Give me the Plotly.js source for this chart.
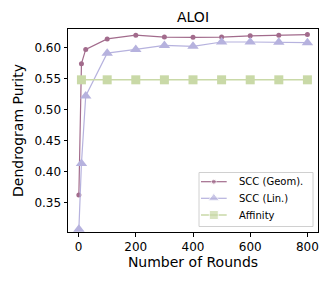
<!DOCTYPE html>
<html><head><meta charset="utf-8">
<script src="https://cdn.plot.ly/plotly-3.0.1.min.js"></script>
<style>body{margin:0;padding:0;background:#fff}#chart{width:332px;height:282px}</style>
</head><body><div id="chart"></div>
<script>
var roundsScc = [1, 10, 25, 100, 200, 300, 400, 500, 600, 700, 800];
var sccGeom = [0.362, 0.574, 0.597, 0.614, 0.620, 0.617, 0.6165, 0.617, 0.619, 0.620, 0.621];
var sccLin = [0.307, 0.413, 0.522, 0.591, 0.597, 0.6035, 0.602, 0.609, 0.609, 0.6085, 0.608];
var roundsAff = [10, 100, 200, 300, 400, 500, 600, 700, 800];
var affinity = [0.548, 0.548, 0.548, 0.548, 0.548, 0.548, 0.548, 0.548, 0.548];
var seriesNames = ["SCC (Geom).", "SCC (Lin.)", "Affinity"];
var xTicks = [0, 200, 400, 600, 800];
var yTicks = [0.35, 0.40, 0.45, 0.50, 0.55, 0.60];

var font = "DejaVu Sans, sans-serif";
var colors = ["#a26b8c", "#b6b2de", "#c9d9a7"];
var symbols = ["circle", "triangle-up", "square"];
var msizes = [5, 10, 9];
var lwidths = [1.2, 1.2, 1.5];
var xs = [roundsScc, roundsScc, roundsAff];
var ys = [sccGeom, sccLin, affinity];

var traces = [];
for (var i = 0; i < 3; i++) {
  traces.push({x: xs[i], y: ys[i], name: seriesNames[i], mode: "lines+markers", showlegend: false,
    line: {color: colors[i], width: lwidths[i]}, marker: {symbol: symbols[i], size: msizes[i], color: colors[i]}});
}

// manual legend (plot-pixel overlay axes)
var legX0 = 131, legX1 = 245, legY0 = 143.5, legY1 = 197.5;
var rowY = [152.7, 169.3, 186];
var shapes = [{type: "rect", xref: "x2", yref: "y2", x0: legX0, x1: legX1, y0: legY0, y1: legY1,
  line: {color: "#d0d0d0", width: 1}, fillcolor: "rgba(255,255,255,0.8)", layer: "below"}];
var annotations = [];
for (var j = 0; j < 3; j++) {
  traces.push({x: [133, 145.8, 158.7], y: [rowY[j], rowY[j], rowY[j]], xaxis: "x2", yaxis: "y2",
    mode: "lines+markers", showlegend: false, cliponaxis: false, hoverinfo: "skip",
    line: {color: colors[j], width: lwidths[j]},
    marker: {symbol: symbols[j], size: [0, msizes[j], 0], color: colors[j]}});
  annotations.push({xref: "x2", yref: "y2", x: 168.5, y: rowY[j], xanchor: "left", yanchor: "middle",
    text: seriesNames[j], showarrow: false, font: {size: 10, family: font, color: "#000"}});
}

var layout = {
  width: 332, height: 282,
  margin: {l: 68, r: 14, t: 29, b: 50},
  paper_bgcolor: "#fff", plot_bgcolor: "#fff",
  font: {family: font, color: "#000", size: 12},
  title: {text: "ALOI", font: {size: 14, family: font}, x: 0.5, xref: "paper", xanchor: "center", y: 0.94, yanchor: "middle"},
  xaxis: {range: [-37, 837], tickvals: xTicks, ticktext: xTicks.map(String),
    showgrid: false, zeroline: false, showline: true, mirror: true, linecolor: "#000", linewidth: 1,
    ticks: "outside", ticklen: 3.5, tickcolor: "#000", tickfont: {size: 12},
    title: {text: "Number of Rounds", font: {size: 14}, standoff: 3}},
  yaxis: {range: [0.3024, 0.630], tickvals: yTicks, ticktext: yTicks.map(function(v){return v.toFixed(2);}),
    showgrid: false, zeroline: false, showline: true, mirror: true, linecolor: "#000", linewidth: 1,
    ticks: "outside", ticklen: 3.5, tickcolor: "#000", tickfont: {size: 12},
    title: {text: "Dendrogram Purity", font: {size: 14}, standoff: 7}},
  xaxis2: {overlaying: "x", range: [0, 250], visible: false, fixedrange: true},
  yaxis2: {overlaying: "y", range: [203, 0], visible: false, fixedrange: true},
  shapes: shapes,
  annotations: annotations,
  showlegend: false
};
Plotly.newPlot("chart", traces, layout, {displayModeBar: false, staticPlot: true});
</script></body></html>
